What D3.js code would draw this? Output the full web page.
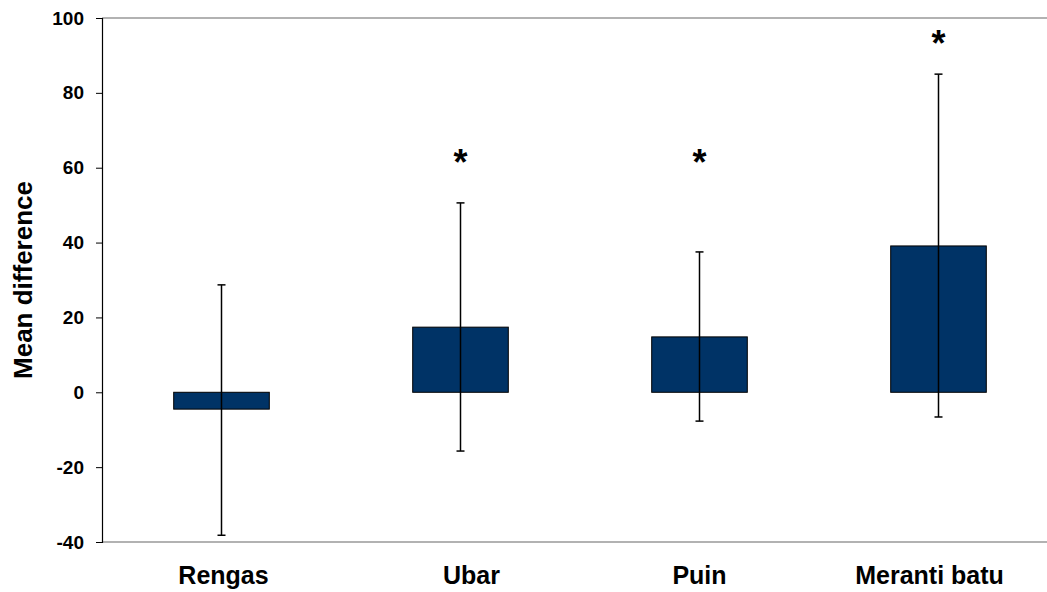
<!DOCTYPE html>
<html lang="en">
<head>
<meta charset="UTF-8">
<script src="https://d3js.org/d3.v7.min.js"></script>
<style>
  body { margin: 0; background: #fff; font-family: "Liberation Sans", Arial, sans-serif; }
  svg { display: block; }
</style>
</head>
<body>
<div id="chart"></div>
<script>
// data
const species = ["Rengas", "Ubar", "Puin", "Meranti batu"];
const meanDiff = [-4.5, 17.4, 14.8, 39.1];
const errLow = [-38.2, -15.7, -7.7, -6.6];
const errHigh = [28.7, 50.6, 37.5, 85];
const significant = [false, true, true, true];
const starLevel = [null, 63, 63, 95];
const yTicks = [-40, -20, 0, 20, 40, 60, 80, 100];

const W = 1047, H = 592;
const margin = {top: 18, right: -11, bottom: 50, left: 102};
const width = W - margin.left - margin.right;
const height = H - margin.top - margin.bottom;
const font = "'Liberation Sans', Arial, sans-serif";
// category labels in the original sit a little off their bar centres
const labelNudge = [2, 11, 0, -9];

const svg = d3.select("#chart").append("svg")
    .attr("width", W)
    .attr("height", H);

const g = svg.append("g")
    .attr("transform", `translate(${margin.left},${margin.top})`);

const x = d3.scaleBand()
    .domain(species)
    .range([0, width])
    .paddingInner(0.6)
    .paddingOuter(0.3);

const y = d3.scaleLinear()
    .domain([-40, 100])
    .range([height, 0]);

// top and bottom frame lines (grey)
g.append("line")
    .attr("x1", 0).attr("x2", width)
    .attr("y1", y(100)).attr("y2", y(100))
    .attr("stroke", "#999").attr("stroke-width", 1.5);
g.append("line")
    .attr("x1", 0).attr("x2", width)
    .attr("y1", y(-40)).attr("y2", y(-40))
    .attr("stroke", "#999").attr("stroke-width", 1.5);

// y axis
const yAxis = g.append("g")
    .call(d3.axisLeft(y).tickValues(yTicks).tickSize(6).tickPadding(12)
        .tickFormat(d => String(d)));
yAxis.select(".domain").attr("stroke", "#000").attr("stroke-width", 1.2);
yAxis.selectAll(".tick line").attr("stroke", "#000");
yAxis.selectAll("text")
    .style("font-family", font)
    .style("font-size", "19px")
    .style("font-weight", "bold")
    .attr("fill", "#000");

// x labels
const xAxis = g.append("g")
    .attr("transform", `translate(0,${height})`)
    .call(d3.axisBottom(x).tickSize(0).tickPadding(24));
xAxis.select(".domain").remove();
xAxis.selectAll("text")
    .attr("dx", (d, i) => labelNudge[i])
    .style("font-family", font)
    .style("font-size", "25px")
    .style("font-weight", "bold")
    .attr("fill", "#000");

// bars
g.selectAll(".bar")
    .data(species)
    .enter().append("rect")
    .attr("class", "bar")
    .attr("x", d => x(d))
    .attr("width", x.bandwidth())
    .attr("y", (d, i) => y(Math.max(0, meanDiff[i])))
    .attr("height", (d, i) => Math.abs(y(meanDiff[i]) - y(0)))
    .attr("fill", "#003366")
    .attr("stroke", "#000")
    .attr("stroke-width", 1);

// error bars
const cx = d => x(d) + x.bandwidth() / 2;
const err = g.selectAll(".err")
    .data(species)
    .enter().append("g")
    .attr("class", "err")
    .attr("stroke", "#000")
    .attr("stroke-width", 1.5);

err.append("line")
    .attr("x1", cx).attr("x2", cx)
    .attr("y1", (d, i) => y(errLow[i]))
    .attr("y2", (d, i) => y(errHigh[i]));
err.append("line")
    .attr("x1", d => cx(d) - 4).attr("x2", d => cx(d) + 4)
    .attr("y1", (d, i) => y(errLow[i]))
    .attr("y2", (d, i) => y(errLow[i]));
err.append("line")
    .attr("x1", d => cx(d) - 4).attr("x2", d => cx(d) + 4)
    .attr("y1", (d, i) => y(errHigh[i]))
    .attr("y2", (d, i) => y(errHigh[i]));

// significance stars
g.selectAll(".star")
    .data(species.filter((d, i) => significant[i]))
    .enter().append("text")
    .attr("class", "star")
    .attr("x", cx)
    .attr("y", d => y(starLevel[species.indexOf(d)]) + 19)
    .attr("text-anchor", "middle")
    .style("font-family", font)
    .style("font-size", "36px")
    .style("font-weight", "bold")
    .text("*");

// y label
svg.append("text")
    .attr("transform", `translate(32,${margin.top + y(30)}) rotate(-90)`)
    .attr("text-anchor", "middle")
    .style("font-family", font)
    .style("font-size", "26px")
    .style("font-weight", "bold")
    .text("Mean difference");
</script>
</body>
</html>
